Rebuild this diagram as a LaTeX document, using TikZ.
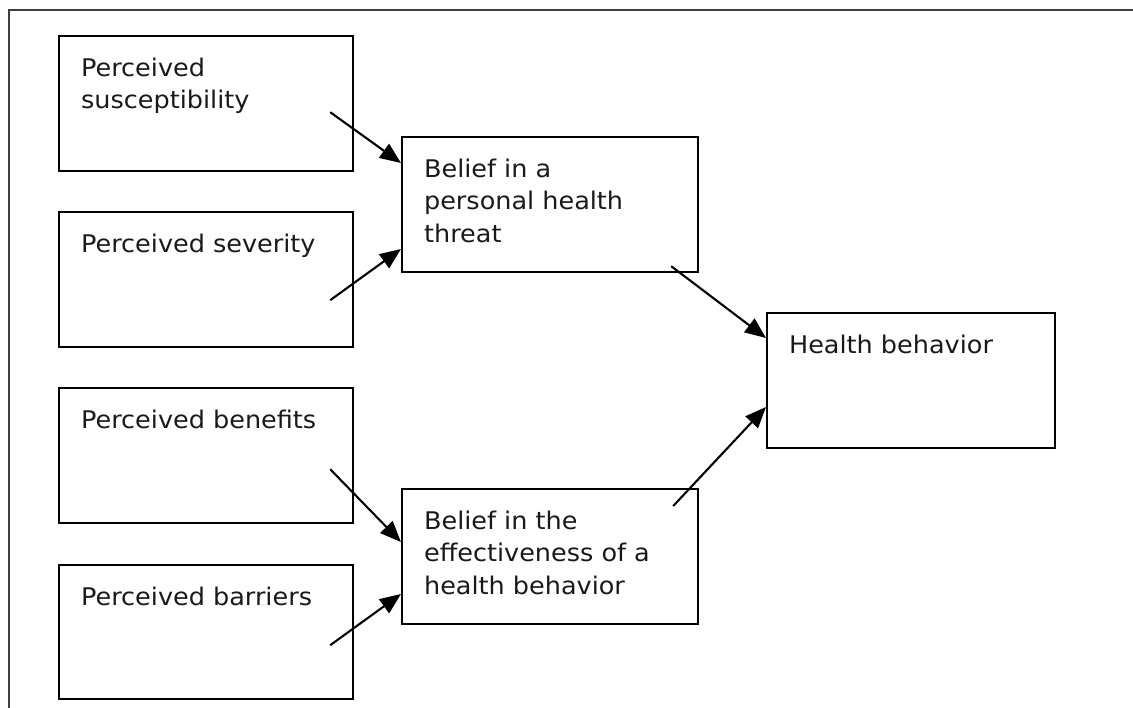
\documentclass[tikz,border=0pt]{standalone}
\usepackage{fontspec}
\setmainfont[FakeStretch=1.05]{DejaVu Sans}
\usetikzlibrary{arrows.meta,calc}
\definecolor{txt}{RGB}{25,25,25}
\newcommand\boxlines[3]{\parbox[c][#1][t]{#2}{\raggedright\leftskip=22pt\relax
  \fontsize{24.3}{32.5}\selectfont\rule{0pt}{40pt}#3}}
\begin{document}
\begin{tikzpicture}[x=1pt,y=-1pt,
  box/.style={draw=black,line width=2.2pt,inner sep=0pt,anchor=north west,text=txt},
  arr/.style={line width=2.1pt,-{Triangle[length=21pt,width=17pt]}},
  frame/.style={draw=black!75,line width=1.5pt}]
\useasboundingbox (0,0) rectangle (1133,708);
\draw[frame] (9,708) -- (9,10) -- (1133,10);
% left column
\node[box] (sus) at (58,35) {\boxlines{135pt}{294pt}{Perceived\\susceptibility}};
\node[box] (sev) at (58,211) {\boxlines{135pt}{294pt}{Perceived severity}};
\node[box] (ben) at (58,387) {\boxlines{135pt}{294pt}{Perceived benefits}};
\node[box] (bar) at (58,564) {\boxlines{134pt}{294pt}{Perceived barriers}};
% middle column
\node[box] (thr) at (401,136) {\boxlines{135pt}{296pt}{Belief in a\\personal health\\threat}};
\node[box] (eff) at (401,488) {\boxlines{135pt}{296pt}{Belief in the\\effectiveness of a\\health behavior}};
% right
\node[box] (hb) at (766,312) {\boxlines{135pt}{288pt}{Health behavior}};
% connector end points
\coordinate (s1) at ($(sus.south east)+(-24,-60)$);
\coordinate (s2) at ($(sev.south east)+(-24,-48)$);
\coordinate (s3) at ($(ben.south east)+(-24,-55)$);
\coordinate (s4) at ($(bar.south east)+(-24,-55)$);
\coordinate (s5) at ($(thr.south east)+(-28,-7)$);
\coordinate (s6) at ($(eff.north east)+(-26,18)$);
\coordinate (t1) at ($(thr.north west)+(0,27)$);
\coordinate (t2) at ($(thr.north west)+(0,113)$);
\coordinate (t3) at ($(eff.north west)+(0,54)$);
\coordinate (t4) at ($(eff.north west)+(0,106)$);
\coordinate (t5) at ($(hb.north west)+(0,26)$);
\coordinate (t6) at ($(hb.north west)+(0,95)$);
\draw[arr] (s1) -- (t1);
\draw[arr] (s2) -- (t2);
\draw[arr] (s3) -- (t3);
\draw[arr] (s4) -- (t4);
\draw[arr] (s5) -- (t5);
\draw[arr] (s6) -- (t6);
\end{tikzpicture}
\end{document}
